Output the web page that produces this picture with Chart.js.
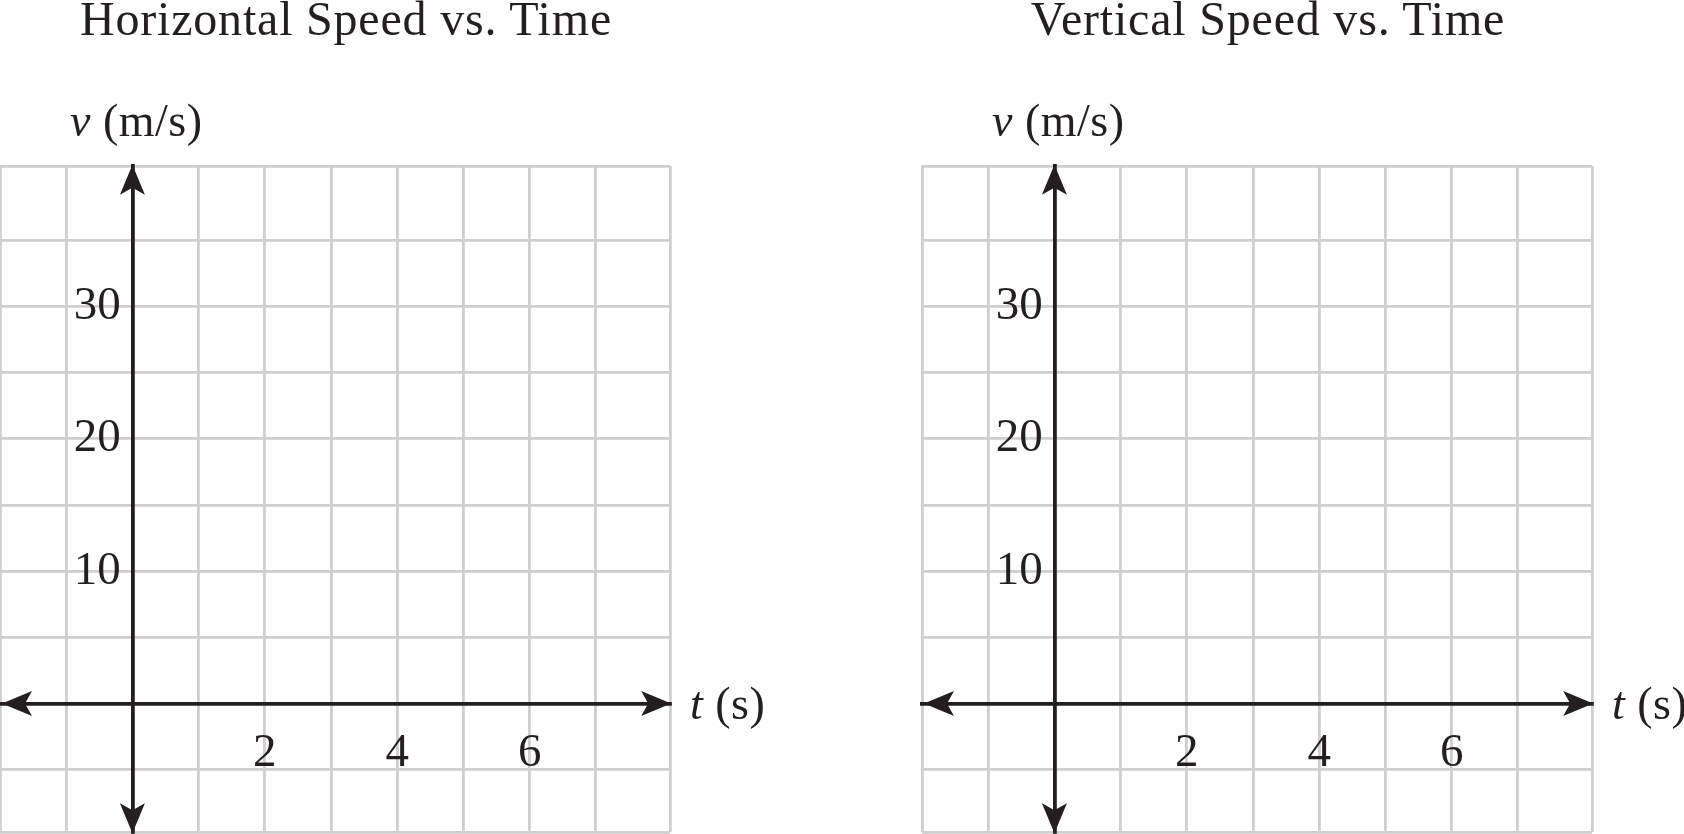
<!DOCTYPE html>
<html>
<head>
<meta charset="utf-8">
<script src="https://cdn.jsdelivr.net/npm/chart.js@4.4.1/dist/chart.umd.min.js"></script>
<style>
html,body{margin:0;padding:0;background:#fff;}
body{width:1684px;height:834px;overflow:hidden;position:relative;}
canvas{position:absolute;top:0;}
.t{position:absolute;font-family:"Liberation Serif","Times New Roman",serif;color:#231f20;line-height:1;white-space:nowrap;}
.title{font-size:48px;letter-spacing:0.8px;width:700px;text-align:center;}
.lab{font-size:46px;letter-spacing:0.5px;}
</style>
</head>
<body>
<script>
// ---- data ----
const chartTitles = ['Horizontal Speed vs. Time', 'Vertical Speed vs. Time'];
const yAxisName = ['v', ' (m/s)'];
const xAxisName = ['t', ' (s)'];
const xMin = -2, xMax = 8.12;
const yMin = -9.7, yMax = 40.6;
const xGridValues = [-2, -1, 0, 1, 2, 3, 4, 5, 6, 7, 8.12];
const yGridValues = [-9.7, -5, 0, 5, 10, 15, 20, 25, 30, 35, 40.6];
const xTickLabels = [2, 4, 6];
const yTickLabels = [10, 20, 30];

// ---- style ----
const AXIS = '#231f20';
const GRID = '#cfcfcf';
const FONT = 'Liberation Serif';
const gridLefts = [0, 922];
const PADL = 24, PADB = 30;
const CW = 790, CH = 832 + PADB;

const arrowPlugin = {
  id: 'axisArrows',
  afterDraw(chart) {
    const {ctx, chartArea: a, scales: {x, y}} = chart;
    const x0 = x.getPixelForValue(0), y0 = y.getPixelForValue(0);
    const L = 30, W = 12.5, N = 7, e = 1.2;
    ctx.save();
    ctx.fillStyle = AXIS;
    const head = (tx, ty, dx, dy) => {
      const px = -dy, py = dx;
      ctx.beginPath();
      ctx.moveTo(tx, ty);
      ctx.lineTo(tx - dx * L + px * W, ty - dy * L + py * W);
      ctx.lineTo(tx - dx * (L - N), ty - dy * (L - N));
      ctx.lineTo(tx - dx * L - px * W, ty - dy * L - py * W);
      ctx.closePath();
      ctx.fill();
    };
    head(a.right + e, y0, 1, 0);
    head(a.left + 2, y0, -1, 0);
    head(x0, a.top - e, 0, -1);
    head(x0, a.bottom + e, 0, 1);
    ctx.restore();
  }
};

function addText(cls, html, left, top) {
  const d = document.createElement('div');
  d.className = 't ' + cls;
  d.innerHTML = html;
  d.style.left = left + 'px';
  d.style.top = top + 'px';
  document.body.appendChild(d);
}

gridLefts.forEach((gl, i) => {
  const cv = document.createElement('canvas');
  cv.width = CW; cv.height = CH;
  cv.style.width = CW + 'px'; cv.style.height = CH + 'px';
  cv.style.left = (gl - PADL) + 'px';
  document.body.appendChild(cv);

  new Chart(cv, {
    type: 'scatter',
    data: { datasets: [{ label: chartTitles[i], data: [] }] },
    options: {
      responsive: false,
      animation: false,
      events: [],
      layout: { padding: { left: PADL, right: CW - PADL - 670, top: 166, bottom: PADB } },
      plugins: { legend: { display: false }, title: { display: false }, tooltip: { enabled: false } },
      scales: {
        x: {
          type: 'linear', min: xMin, max: xMax, position: { y: 0 },
          afterBuildTicks: s => { s.ticks = xGridValues.map(v => ({ value: v })); },
          grid: { color: GRID, lineWidth: 2.8, drawTicks: false, tickLength: 0 },
          border: { display: true, color: AXIS, width: 3.8 },
          ticks: {
            autoSkip: false, maxRotation: 0, minRotation: 0, padding: 22, color: AXIS,
            font: { family: FONT, size: 47 },
            callback: v => xTickLabels.includes(v) ? String(v) : ''
          }
        },
        y: {
          type: 'linear', min: yMin, max: yMax, position: { x: 0 },
          afterBuildTicks: s => { s.ticks = yGridValues.map(v => ({ value: v })); },
          grid: { color: GRID, lineWidth: 2.8, drawTicks: false, tickLength: 0 },
          border: { display: true, color: AXIS, width: 3.8 },
          ticks: {
            autoSkip: false, padding: 0, color: AXIS,
            font: { family: FONT, size: 47 },
            callback: v => yTickLabels.includes(v) ? String(v) + ' ' : ''
          }
        }
      }
    },
    plugins: [arrowPlugin]
  });

  addText('title', chartTitles[i], gl + 346 - 350, 35 - 0.8375 * 48);
  addText('lab', '<i>' + yAxisName[0] + '</i>' + yAxisName[1], gl + 70, 137 - 0.8375 * 46);
  addText('lab', '<i>' + xAxisName[0] + '</i>' + xAxisName[1], gl + 690, 720 - 0.8375 * 46);
});
</script>
</body>
</html>
